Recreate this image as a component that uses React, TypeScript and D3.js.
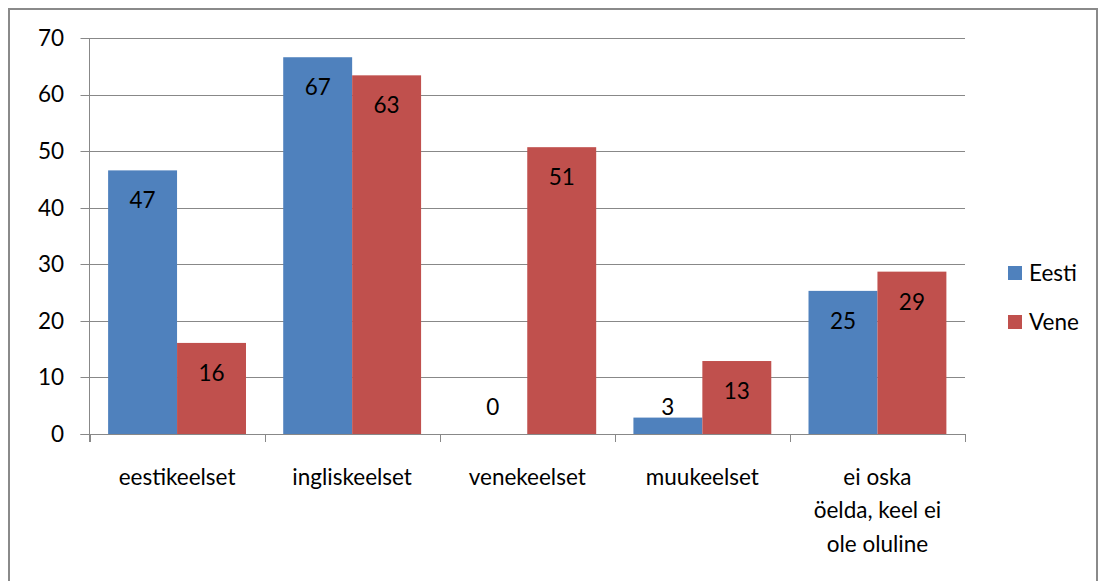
import React, { useEffect, useRef } from 'react';
import * as d3 from 'd3';

const categories = ['eestikeelset', 'ingliskeelset', 'venekeelset', 'muukeelset', 'ei oska öelda, keel ei ole oluline'];
const categoryLines = [['eestikeelset'], ['ingliskeelset'], ['venekeelset'], ['muukeelset'], ['ei oska', 'öelda, keel ei', 'ole oluline']];
const seriesNames = ['Eesti', 'Vene'];
const eestiValues = [46.6, 66.6, 0, 2.9, 25.3];
const veneValues = [16.1, 63.4, 50.7, 12.9, 28.7];
const yTicks = [0, 10, 20, 30, 40, 50, 60, 70];
const colors = ['#4F81BD', '#C0504D'];

const W = 1105;
const H = 581;
const FONT = 'Lato, "Open Sans", sans-serif';
const FS = '22.5px';

const App: React.FC = () => {
  const svgRef = useRef<SVGSVGElement | null>(null);

  useEffect(() => {
    if (!svgRef.current) return;
    const svg = d3.select(svgRef.current);
    svg.selectAll('*').remove();

    // outer chart frame, bottom runs past the picture
    svg.append('rect')
      .attr('x', 9).attr('y', 9)
      .attr('width', 1088).attr('height', 600)
      .attr('fill', '#fff')
      .attr('stroke', '#8a8a8a')
      .attr('stroke-width', 2);

    const left = 89.5, right = 965, top = 38, bottom = 434;

    const x = d3.scaleBand<string>().domain(categories).range([left, right]).paddingInner(0).paddingOuter(0);
    const inner = d3.scaleBand<string>().domain(seriesNames).range([0, x.bandwidth()]).paddingInner(0).paddingOuter(0.27);
    const y = d3.scaleLinear().domain([0, 70]).range([bottom, top]);

    // gridlines + y ticks
    svg.append('g').selectAll('line')
      .data(yTicks)
      .enter().append('line')
      .attr('x1', left - 9).attr('x2', right)
      .attr('y1', d => Math.round(y(d)) + 0.5).attr('y2', d => Math.round(y(d)) + 0.5)
      .attr('stroke', '#888')
      .attr('stroke-width', 1);

    svg.append('g').selectAll('text')
      .data(yTicks)
      .enter().append('text')
      .attr('x', 64).attr('y', d => y(d))
      .attr('dy', '0.35em')
      .attr('text-anchor', 'end')
      .style('font-family', FONT)
      .style('font-size', FS)
      .style('fill', '#000')
      .text(d => d);

    const series = [eestiValues, veneValues];
    series.forEach((vals, si) => {
      const g = svg.append('g');
      g.selectAll('rect')
        .data(vals)
        .enter().append('rect')
        .attr('x', (_, i) => x(categories[i])! + inner(seriesNames[si])!)
        .attr('y', d => y(d))
        .attr('width', inner.bandwidth())
        .attr('height', d => bottom - y(d))
        .attr('fill', colors[si]);

      g.selectAll('text')
        .data(vals)
        .enter().append('text')
        .attr('x', (_, i) => x(categories[i])! + inner(seriesNames[si])! + inner.bandwidth() / 2)
        .attr('y', d => Math.min(y(d) + 30, 407))
        .attr('dy', '0.35em')
        .attr('text-anchor', 'middle')
        .style('font-family', FONT)
        .style('font-size', FS)
        .style('fill', '#000')
        .text(d => Math.round(d));
    });

    // axes lines
    svg.append('line')
      .attr('x1', left).attr('x2', left).attr('y1', top).attr('y2', bottom + 8)
      .attr('stroke', '#888');
    svg.append('line')
      .attr('x1', left - 9).attr('x2', right).attr('y1', bottom + 0.5).attr('y2', bottom + 0.5)
      .attr('stroke', '#888');
    const tickXs = categories.map(c => x(c)!).concat([right]);
    svg.append('g').selectAll('line')
      .data(tickXs)
      .enter().append('line')
      .attr('x1', d => Math.round(d) + 0.5).attr('x2', d => Math.round(d) + 0.5)
      .attr('y1', bottom).attr('y2', bottom + 8)
      .attr('stroke', '#888');

    // category labels
    categories.forEach((c, i) => {
      const t = svg.append('text')
        .attr('x', x(c)! + x.bandwidth() / 2)
        .attr('y', 476)
        .attr('text-anchor', 'middle')
        .style('font-family', FONT)
        .style('font-size', FS)
        .style('fill', '#000');
      categoryLines[i].forEach((ln, li) => {
        t.append('tspan')
          .attr('x', x(c)! + x.bandwidth() / 2)
          .attr('y', 477 + li * 33.5)
          .attr('dy', '0.35em')
          .text(ln);
      });
    });

    // legend
    const legend = svg.append('g');
    seriesNames.forEach((s, i) => {
      const cy = 273 + i * 49;
      legend.append('rect')
        .attr('x', 1008).attr('y', cy - 7)
        .attr('width', 14).attr('height', 14)
        .attr('fill', colors[i]);
      legend.append('text')
        .attr('x', 1029).attr('y', cy)
        .attr('dy', '0.35em')
        .style('font-family', FONT)
        .style('font-size', FS)
        .style('fill', '#000')
        .text(s);
    });
  }, []);

  return (
    <svg ref={svgRef} width={W} height={H} style={{ position: 'absolute', left: 0, top: 0 }} />
  );
};

export default App;
